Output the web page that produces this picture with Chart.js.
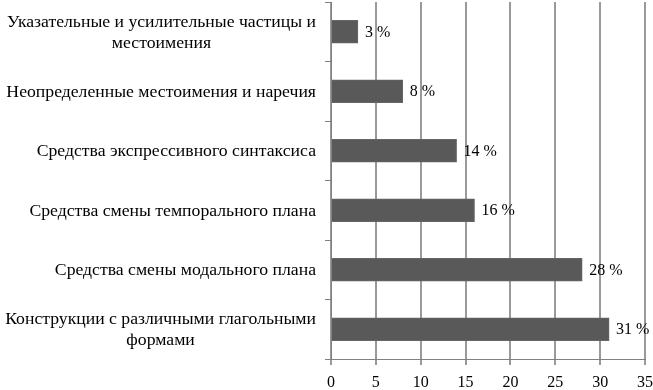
<!DOCTYPE html>
<html><head><meta charset="utf-8">
<script src="https://cdn.jsdelivr.net/npm/chart.js@4/dist/chart.umd.min.js"></script>
<style>html,body{margin:0;padding:0;background:#fff}#w{width:653px;height:390px}</style>
</head><body><div id="w"><canvas id="c"></canvas></div>
<script>
const categories = [
  ["Указательные и усилительные частицы и", "местоимения"],
  ["Неопределенные местоимения и наречия"],
  ["Средства экспрессивного синтаксиса"],
  ["Средства смены темпорального плана"],
  ["Средства смены модального плана"],
  ["Конструкции с различными глагольными", "формами"]
];
const values = [3, 8, 14, 16, 28, 31];
const xTicks = [0, 5, 10, 15, 20, 25, 30, 35];

const FONT = '"Liberation Serif", "Times New Roman", serif';
const FS = 16;
const CFS = 17.7;

const labelPlugin = {
  id: 'labels',
  afterDraw(chart) {
    const ctx = chart.ctx;
    const ys = chart.scales.y;
    const meta = chart.getDatasetMeta(0);
    ctx.save();
    ctx.font = CFS + 'px ' + FONT;
    ctx.fillStyle = '#000';
    ctx.textBaseline = 'middle';
    const right = ys.right - 15;
    const lh = 21;
    categories.forEach((lines, i) => {
      const cy = ys.getPixelForValue(i) + 1;
      const bw = Math.max(...lines.map(l => ctx.measureText(l).width));
      const cx = right - bw / 2;
      ctx.textAlign = 'center';
      const y0 = cy - (lines.length - 1) * lh / 2;
      lines.forEach((l, k) => ctx.fillText(l, cx, y0 + k * lh));
    });
    ctx.font = FS + 'px ' + FONT;
    ctx.textAlign = 'left';
    meta.data.forEach((bar, i) => {
      ctx.fillText(values[i] + ' %', bar.x + 7, bar.y + 1);
    });
    ctx.restore();
  }
};

new Chart(document.getElementById('c'), {
  type: 'bar',
  data: {
    labels: categories.map(c => c.join(' ')),
    datasets: [{
      data: values,
      backgroundColor: '#595959',
      borderColor: '#666666',
      borderWidth: 1,
      barThickness: 23
    }]
  },
  options: {
    indexAxis: 'y',
    responsive: true,
    maintainAspectRatio: false,
    animation: false,
    layout: { padding: { top: 2, right: 8, left: 0, bottom: 0 } },
    plugins: { legend: { display: false }, tooltip: { enabled: false } },
    scales: {
      x: {
        min: 0, max: 35,
        afterBuildTicks: s => { s.ticks = xTicks.map(v => ({ value: v })); },
        grid: { color: '#9a9a9a', lineWidth: 2, drawTicks: true, tickLength: 6 },
        border: { color: '#808080', width: 1 },
        ticks: { font: { family: FONT, size: FS }, color: '#000', padding: 8, maxRotation: 0 },
        afterFit: s => { s.height = 31; s.paddingLeft = 0; s.paddingRight = 0; }
      },
      y: {
        grid: { drawOnChartArea: false, drawTicks: true, tickLength: 6, color: '#808080', offset: true },
        border: { color: '#808080', width: 1 },
        ticks: { display: false },
        afterFit: s => { s.width = 331; s.paddingTop = 0; s.paddingBottom = 0; }
      }
    }
  },
  plugins: [labelPlugin]
});
</script></body></html>
